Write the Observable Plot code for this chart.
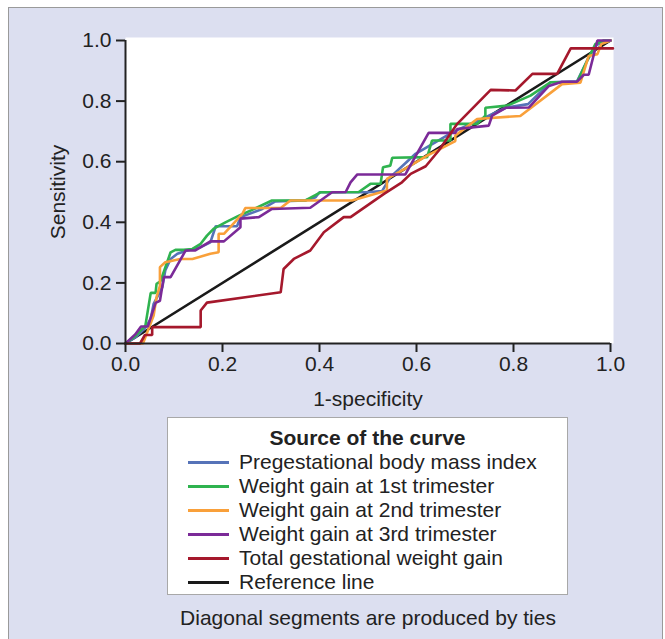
<!DOCTYPE html>
<html><head><meta charset="utf-8">
<script src="https://cdn.jsdelivr.net/npm/d3@7"></script>
<script src="https://cdn.jsdelivr.net/npm/@observablehq/plot@0.6"></script>
<style>
body{margin:0;background:#fff;font-family:"Liberation Sans",Arial,sans-serif;}
#panel{position:absolute;left:8px;top:7px;width:655px;height:640px;background:#dcdff0;border:1.5px solid #9a9a9a;box-sizing:border-box;}
#chart{position:absolute;left:0;top:0;}
#legend{position:absolute;left:167px;top:417px;width:401px;height:178px;background:#fff;border:1.5px solid #a8a8a8;box-sizing:border-box;}
#legend .title{position:absolute;left:0;width:100%;top:8px;text-align:center;font-weight:bold;font-size:21px;color:#222;}
.item{position:absolute;left:20px;height:24px;font-size:21px;color:#222;white-space:nowrap;}
.item .sw{position:absolute;left:0;top:11px;width:41px;height:3px;}
.item .lb{position:absolute;left:51px;top:0;line-height:24px;}
#caption{position:absolute;left:0;width:736px;top:606px;text-align:center;font-size:21px;color:#222;}
</style></head>
<body>
<div id="panel"></div>
<div id="chart"></div>
<div id="legend"><div class="title">Source of the curve</div></div>
<div id="caption" style="width:736px">Diagonal segments are produced by ties</div>
<script>
const seriesNames = ["Pregestational body mass index","Weight gain at 1st trimester","Weight gain at 2nd trimester","Weight gain at 3rd trimester","Total gestational weight gain","Reference line"];
const seriesColors = ["#5673b8","#2fb34f","#f9a03a","#7b2a98","#a5182c","#1a1a1a"];
const xTicks = [0,0.2,0.4,0.6,0.8,1.0];
const yTicks = [0,0.2,0.4,0.6,0.8,1.0];

const pregestationalBMI = [[0,0],[0.02,0.02],[0.04,0.05],[0.052,0.081],[0.058,0.131],[0.076,0.186],[0.082,0.241],[0.093,0.279],[0.107,0.296],[0.127,0.307],[0.155,0.318],[0.175,0.334],[0.186,0.387],[0.23,0.387],[0.237,0.417],[0.282,0.444],[0.309,0.469],[0.37,0.472],[0.392,0.483],[0.40,0.499],[0.498,0.499],[0.529,0.503],[0.546,0.549],[0.577,0.595],[0.598,0.626],[0.674,0.697],[0.735,0.741],[0.784,0.778],[0.83,0.79],[0.876,0.862],[0.931,0.865],[0.952,0.934],[0.97,0.985],[1,1]];
const gain1st = [[0,0],[0.021,0.026],[0.041,0.059],[0.052,0.167],[0.062,0.167],[0.064,0.197],[0.072,0.205],[0.093,0.301],[0.103,0.309],[0.12,0.309],[0.138,0.312],[0.155,0.329],[0.168,0.356],[0.182,0.379],[0.206,0.40],[0.234,0.422],[0.26,0.44],[0.302,0.472],[0.371,0.472],[0.402,0.499],[0.481,0.50],[0.505,0.527],[0.526,0.527],[0.531,0.582],[0.546,0.587],[0.55,0.613],[0.622,0.615],[0.632,0.67],[0.67,0.67],[0.67,0.725],[0.725,0.725],[0.742,0.752],[0.742,0.778],[0.787,0.785],[0.835,0.818],[0.876,0.862],[0.931,0.862],[0.952,0.934],[0.969,0.989],[0.986,1],[1,1]];
const gain2nd = [[0,0],[0.036,0],[0.058,0.092],[0.064,0.153],[0.071,0.19],[0.071,0.252],[0.082,0.268],[0.113,0.279],[0.138,0.279],[0.175,0.296],[0.192,0.301],[0.192,0.362],[0.203,0.362],[0.241,0.428],[0.247,0.447],[0.32,0.447],[0.34,0.472],[0.467,0.472],[0.539,0.505],[0.539,0.543],[0.577,0.577],[0.622,0.62],[0.68,0.668],[0.68,0.686],[0.725,0.741],[0.814,0.751],[0.90,0.856],[0.938,0.861],[0.955,0.949],[0.973,0.955],[0.981,0.988],[1,1]];
const gain3rd = [[0,0],[0.02,0.03],[0.032,0.056],[0.046,0.056],[0.062,0.134],[0.071,0.141],[0.079,0.219],[0.093,0.219],[0.124,0.307],[0.144,0.307],[0.175,0.337],[0.203,0.337],[0.237,0.384],[0.237,0.412],[0.275,0.417],[0.302,0.444],[0.381,0.448],[0.426,0.499],[0.454,0.50],[0.464,0.532],[0.478,0.558],[0.577,0.558],[0.625,0.695],[0.68,0.695],[0.684,0.708],[0.749,0.719],[0.756,0.752],[0.784,0.778],[0.832,0.779],[0.873,0.85],[0.90,0.864],[0.931,0.864],[0.945,0.887],[0.955,0.887],[0.973,1.0],[1,1]];
const totalGain = [[0,0],[0.03,0],[0.04,0.028],[0.055,0.028],[0.055,0.054],[0.155,0.054],[0.155,0.109],[0.168,0.135],[0.32,0.169],[0.326,0.246],[0.347,0.279],[0.381,0.307],[0.409,0.367],[0.45,0.417],[0.464,0.417],[0.533,0.494],[0.57,0.532],[0.588,0.56],[0.619,0.585],[0.646,0.637],[0.684,0.725],[0.753,0.837],[0.804,0.835],[0.839,0.89],[0.89,0.89],[0.918,0.974],[1.005,0.974]];
const referenceLine = [[0,0],[1,1]];

const allSeries = [referenceLine, pregestationalBMI, gain1st, gain2nd, gain3rd, totalGain];
const drawNames = [seriesNames[5], seriesNames[0], seriesNames[1], seriesNames[2], seriesNames[3], seriesNames[4]];
const rows = allSeries.flatMap((pts, i) => pts.map(([x, y]) => ({x, y, name: drawNames[i]})));

const plot = Plot.plot({
  width: 665, height: 430,
  marginLeft: 125, marginRight: 55, marginTop: 40, marginBottom: 87,
  style: {fontSize: "21px", fontFamily: "'Liberation Sans', Arial, sans-serif", color: "#222", background: "transparent", overflow: "visible"},
  x: {domain: [0, 1]},
  y: {domain: [0, 1]},
  color: {domain: seriesNames, range: seriesColors},
  marks: [
    Plot.frame({fill: "white", stroke: "none", insetTop: -3, insetRight: -3}),
    Plot.line(rows, {x: "x", y: "y", z: "name", stroke: "name", strokeWidth: 2.6, strokeLinejoin: "miter", clip: false}),
    Plot.ruleY([0], {stroke: "#222", strokeWidth: 2}),
    Plot.ruleX([0], {stroke: "#222", strokeWidth: 2}),
    Plot.axisX({ticks: xTicks, tickFormat: d3.format(".1f"), tickSize: 9, tickPadding: 4, stroke: "#222", strokeWidth: 2, label: "1-specificity", labelArrow: "none", labelAnchor: "center", labelOffset: 62}),
    Plot.axisY({ticks: yTicks, tickFormat: d3.format(".1f"), tickSize: 9, tickPadding: 5, stroke: "#222", strokeWidth: 2, label: "Sensitivity", labelArrow: "none", labelAnchor: "center", labelOffset: 75})
  ]
});
plot.querySelectorAll("text, tspan").forEach(t => {
  if (t.childElementCount === 0 && /[→↑]/.test(t.textContent)) t.textContent = t.textContent.replace(/\s*[→↑]\s*/g, "").trim();
});
document.getElementById("chart").appendChild(plot);

const legend = document.getElementById("legend");
seriesNames.forEach((n, i) => {
  const d = document.createElement("div");
  d.className = "item";
  d.style.top = (32 + i * 24) + "px";
  d.innerHTML = `<div class="sw" style="background:${seriesColors[i]}"></div><div class="lb">${n}</div>`;
  legend.appendChild(d);
});
</script>
</body></html>
